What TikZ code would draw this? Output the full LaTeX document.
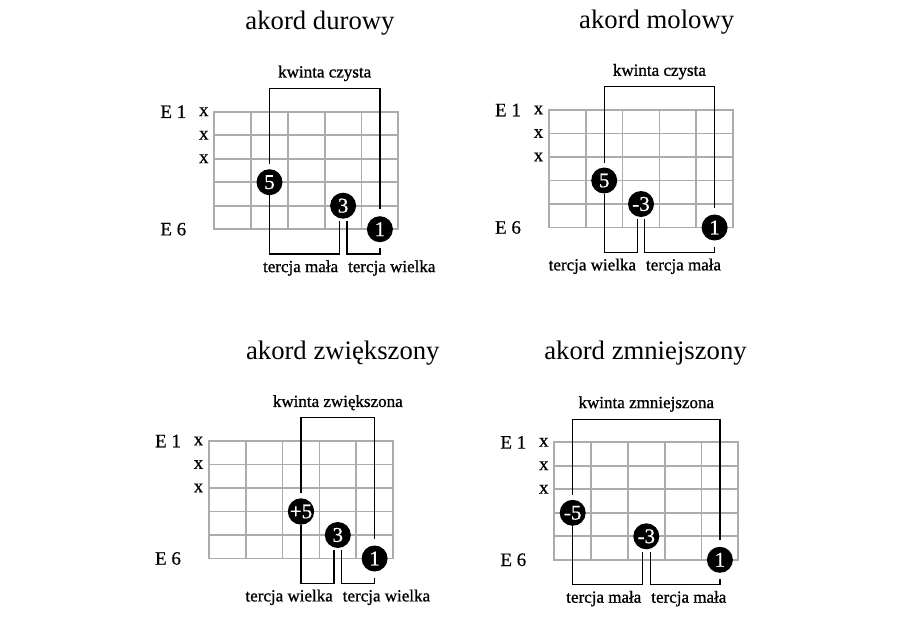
\documentclass[tikz,border=0pt]{standalone}
\usepackage{fontspec}
\setmainfont{Liberation Serif}
\newfontfamily\lblfont[FakeBold=1]{Liberation Serif}
\newfontfamily\strfont[FakeBold=0.5]{Liberation Serif}
\newfontfamily\dotfont[FakeBold=0.6]{Liberation Serif}
\usetikzlibrary{calc}
\definecolor{gridgray}{RGB}{172,172,172}
\tikzset{
  gridline/.style={draw=gridgray, line width=1.7pt, line cap=rect},
  br/.style={draw=black, line width=1.2pt},
  dot/.style={circle, fill=black, minimum size=26pt, inner sep=0pt, outer sep=0pt,
    text=white, font=\dotfont\fontsize{21}{21}\selectfont},
  title/.style={font=\fontsize{26.7}{28}\selectfont, anchor=base, inner sep=0pt},
  lbl/.style={font=\lblfont\fontsize{17}{17}\selectfont, inner ysep=0pt, inner xsep=1pt},
  strlbl/.style={font=\strfont\fontsize{19}{19}\selectfont, inner sep=0pt},
}
% #1 prefix
\newcommand\fretboard[1]{%
  \foreach \i in {0,...,5} {\draw[gridline] (\i*36.8,0) -- (\i*36.8,117.5);}
  \foreach \j in {0,...,5} {\draw[gridline] (0,\j*23.5) -- (184,\j*23.5);}
  \node[strlbl] (#1-e1) at (-41,0) {E 1};
  \node[strlbl] (#1-e6) at (-41,117.5) {E 6};
  \node[strlbl] (#1-x1) at (-10.5,0) {x};
  \node[strlbl] (#1-x2) at (-10.5,23.5) {x};
  \node[strlbl] (#1-x3) at (-10.5,47) {x};
}
% #1 prefix, #2 fifth col, #3 third col, #4 fifth text, #5 third text,
% #6 fifth label, #7 left lower label, #8 right lower label
\newcommand\chord[8]{%
  \coordinate (#1-top) at (0,-23.2);
  \coordinate (#1-lab) at (0,-38.3);
  \coordinate (#1-bot) at (0,142.3);
  \coordinate (#1-lb) at (0,156.3);
  \node[dot] (#1-5) at ({(#2-0.5)*36.8},70.5) {#4};
  \node[dot] (#1-3) at ({(#3-0.5)*36.8},94) {#5};
  \node[dot] (#1-1) at (165.6,117.5) {1};
  \draw[br, shorten <=5pt, shorten >=7pt] (#1-5.north) -- (#1-5.north |- #1-top)
    -- (#1-1.north |- #1-top) -- (#1-1.north);
  \node[lbl] (#1-k) at ($(#1-5.north |- #1-lab)!0.5!(#1-1.north |- #1-lab)$) {#6};
  \draw[br, shorten >=3pt] (#1-5.south) -- (#1-5.south |- #1-bot)
    -- (#1-3.253 |- #1-bot) -- (#1-3.253);
  \draw[br, shorten <=3pt, shorten >=6pt] (#1-3.287) -- (#1-3.287 |- #1-bot)
    -- (#1-1.south |- #1-bot) -- (#1-1.south);
  \node[lbl, anchor=east] (#1-la) at (#1-3.253 |- #1-lb) {#7};
  \node[lbl, anchor=west] (#1-lr) at (#1-3.287 |- #1-lb) {#8};
}
\begin{document}
\begin{tikzpicture}[x=1pt, y=-1pt]
  \fill[white] (0,0) rectangle (900,619);
  \useasboundingbox (0,0) rectangle (900,619);

  \node[title] (t1) at (320,29.3) {akord durowy};
  \node[title] (t2) at (656.7,28.3) {akord molowy};
  \node[title] (t3) at (342.8,359.3) {akord zwiększony};
  \node[title] (t4) at (645.5,359.3) {akord zmniejszony};

  \begin{scope}[shift={(214.3,111.7)}]
    \fretboard{a}
    \chord{a}{2}{4}{5}{3}{kwinta czysta}{tercja mała}{tercja wielka}
  \end{scope}
  \begin{scope}[shift={(549,110)}]
    \fretboard{b}
    \chord{b}{2}{3}{5}{-3}{kwinta czysta}{tercja wielka}{tercja mała}
  \end{scope}
  \begin{scope}[shift={(209,441)}]
    \fretboard{c}
    \chord{c}{3}{4}{+5}{3}{kwinta zwiększona}{tercja wielka}{tercja wielka}
  \end{scope}
  \begin{scope}[shift={(554.3,442.3)}]
    \fretboard{d}
    \chord{d}{1}{3}{-5}{-3}{kwinta zmniejszona}{tercja mała}{tercja mała}
  \end{scope}
\end{tikzpicture}
\end{document}
